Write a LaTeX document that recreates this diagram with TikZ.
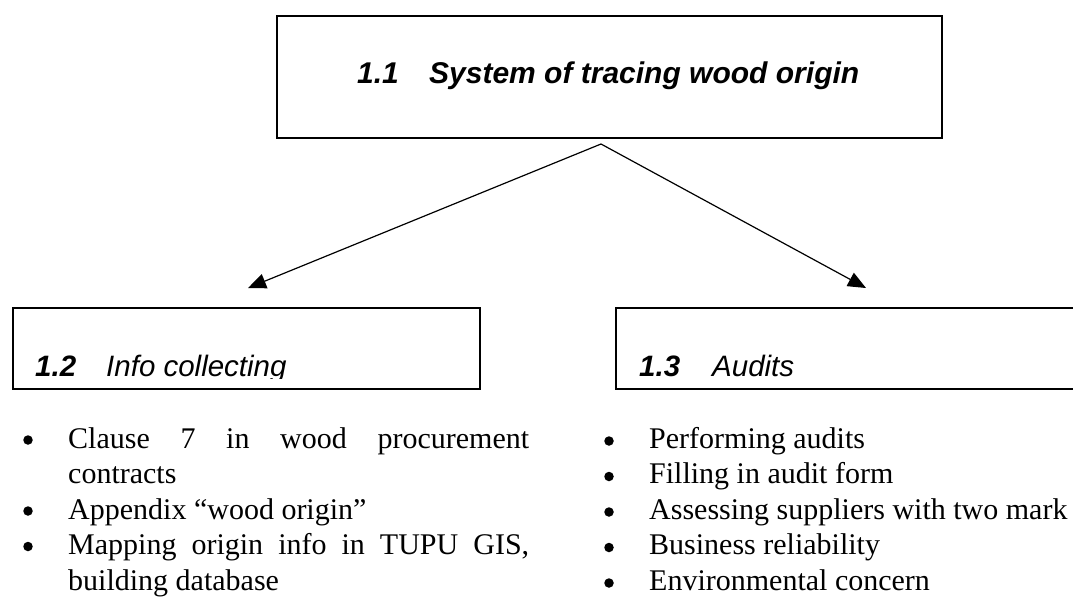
\documentclass[tikz,border=0pt]{standalone}
\usepackage{fontspec}
\setmainfont{Liberation Serif}
\newfontfamily\arialf{Liberation Sans}
\usetikzlibrary{arrows.meta}
\begin{document}
\begin{tikzpicture}[x=1pt,y=-1pt,
  boxframe/.style={draw, line width=1.8pt, rectangle, inner sep=0pt, anchor=north west},
  conn/.style={line width=1.2pt, -{Triangle[length=18pt,width=15pt]}},
  titletext/.style={anchor=base west, inner sep=0pt, font=\arialf\fontsize{30}{36}\selectfont\bfseries\itshape},
  headtext/.style={anchor=base west, inner sep=0pt, font=\arialf\fontsize{29.5}{35}\selectfont\itshape},
  bodytext/.style={anchor=base west, inner sep=0pt, font=\fontsize{30}{35}\selectfont},
  dotmark/.style={circle, fill=black, inner sep=0pt, minimum size=9.5pt}
]
\useasboundingbox (0,0) rectangle (1073,598);
\clip (0,0) rectangle (1073,598);
% boxes
\node[boxframe, minimum width=665pt, minimum height=122pt] (top) at (276,15) {};
\node[boxframe, minimum width=467pt, minimum height=81pt] (left) at (12,307) {};
\node[boxframe, minimum width=520pt, minimum height=81pt] (right) at (615,307) {};
% box texts
\node[titletext] (ttl) at (357,83) {\makebox[72pt][l]{1.1}System of tracing wood origin};
\begin{scope}
  \clip (12,300) rectangle (479,378.5);
  \node[headtext] (h12) at (35,376) {\makebox[71pt][l]{\bfseries 1.2}Info collecting};
\end{scope}
\node[headtext] (h13) at (639,376) {\makebox[73pt][l]{\bfseries 1.3}Audits};
% connectors
\coordinate (apex) at (601,144);
\coordinate (tipL) at (248,288);
\coordinate (tipR) at (866,288);
\draw[conn] (apex) -- (tipL);
\draw[conn] (apex) -- (tipR);
% left list
\node[dotmark] (lb1) at (28,440) {};
\node[dotmark] (lb2) at (28,511) {};
\node[dotmark] (lb3) at (28,546.5) {};
\node[bodytext] (l1) at (68,448) {\makebox[461pt][s]{Clause 7 in wood procurement}};
\node[bodytext] (l2) at (68,483.5) {contracts};
\node[bodytext] (l3) at (68,519) {Appendix “wood origin”};
\node[bodytext] (l4) at (68,554.5) {\makebox[461pt][s]{Mapping origin info in TUPU GIS,}};
\node[bodytext] (l5) at (68,590) {building database};
% right list
\node[dotmark] (rb1) at (609,441) {};
\node[dotmark] (rb2) at (609,476.5) {};
\node[dotmark] (rb3) at (609,512) {};
\node[dotmark] (rb4) at (609,547.5) {};
\node[dotmark] (rb5) at (609,583) {};
\node[bodytext] (r1) at (649,448) {Performing audits};
\node[bodytext] (r2) at (649,483.5) {Filling in audit form};
\node[bodytext] (r3) at (649,519) {Assessing suppliers with two mark};
\node[bodytext] (r4) at (649,554.5) {Business reliability};
\node[bodytext] (r5) at (649,590) {Environmental concern};
\end{tikzpicture}
\end{document}
